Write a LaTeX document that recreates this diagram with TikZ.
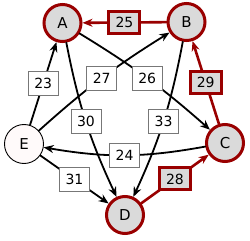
\documentclass[tikz,border=0pt]{standalone}
\usepackage{fontspec}
\setmainfont{DejaVu Sans}
\usetikzlibrary{arrows.meta}
\definecolor{darkred}{HTML}{990000}
\definecolor{nodegray}{HTML}{DADADA}
\definecolor{boxgray}{HTML}{777777}
\definecolor{offwhite}{HTML}{FFFAFA}

\begin{document}
\begin{tikzpicture}[x=1pt, y=1pt, >={Stealth[length=10pt,width=8pt]}, line cap=round]
	\tikzset{
		vertex/.style={circle, draw=black, line width=0.9pt, fill=offwhite,
			minimum size=39pt, inner sep=0pt, text=black,
			font=\fontsize{15}{18}\selectfont},
		chosen/.style={vertex, draw=darkred, fill=nodegray,
			line width=3pt, minimum size=37pt},
		weight/.style={draw=boxgray, fill=white, line width=0.8pt,
			minimum width=30pt, minimum height=24pt, inner sep=1pt,
			text=black, font=\fontsize{14}{16}\selectfont},
		chosenweight/.style={weight, draw=darkred, fill=nodegray,
			line width=3pt, minimum width=31pt, minimum height=22pt},
		arc/.style={->, line width=1.8pt},
		chosenarc/.style={->, darkred, line width=2.6pt}
	}
	\useasboundingbox (0,0) rectangle (250,-241);
	% vertices
	\node[chosen] (A) at (62.5,-23) {A};
	\node[chosen] (B) at (186.5,-22) {B};
	\node[chosen] (C) at (225,-143) {C};
	\node[chosen] (D) at (125,-215) {D};
	\node[vertex] (E) at (24,-144) {E};
	% arcs
	\draw[arc] (E) -- node[weight] {23} (A);
	\draw[arc] (E) to[bend left=5] node[weight] {27} (B);
	\draw[arc] (A) to[bend left=5] node[weight] {26} (C);
	\draw[arc] (A) to[bend right=7] node[weight] {30} (D);
	\draw[arc] (B) to[bend left=7] node[weight] {33} (D);
	\draw[arc] (E) -- node[weight] {31} (D);
	\draw[arc] (C) to[bend left=10] node[weight] {24} (E);
	% chosen arcs
	\draw[chosenarc] (B) -- node[chosenweight] {25} (A);
	\draw[chosenarc] (C) -- node[chosenweight] {29} (B);
	\draw[chosenarc] (D) -- node[chosenweight] {28} (C);
\end{tikzpicture}
\end{document}
